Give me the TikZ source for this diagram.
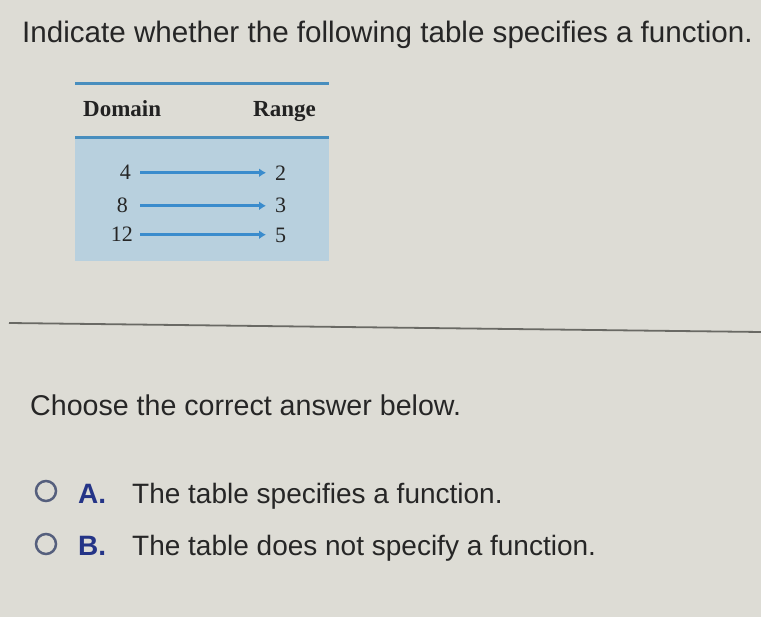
\documentclass[tikz,border=0pt]{standalone}
\usepackage{fontspec}
\setmainfont{Liberation Serif}
\newfontfamily\arialf{Liberation Sans}
\usetikzlibrary{arrows.meta}
\definecolor{bgc}{RGB}{221,220,213}
\definecolor{txt}{RGB}{38,38,38}
\definecolor{tblue}{RGB}{72,142,190}
\definecolor{tfill}{RGB}{184,208,222}
\definecolor{arrc}{RGB}{58,140,205}
\definecolor{navy}{RGB}{36,52,135}
\definecolor{ringc}{RGB}{85,95,125}
\definecolor{sepc}{RGB}{105,105,100}
\tikzset{
  sanstxt/.style={inner sep=0pt, anchor=base west, text=txt, font=\arialf\fontsize{28}{30}\selectfont},
  head/.style={inner sep=0pt, anchor=base west, text=txt!90!black, font=\bfseries\fontsize{23}{25}\selectfont},
  dom/.style={inner sep=0pt, anchor=base east, text=txt, font=\fontsize{22}{24}\selectfont},
  rng/.style={inner sep=0pt, anchor=base west, text=txt, font=\fontsize{22}{24}\selectfont},
  maparrow/.style={draw=arrc, line width=3pt, shorten <=9pt, shorten >=9pt, -{Latex[length=7pt,width=9pt]}},
  letter/.style={inner sep=0pt, anchor=base west, text=navy, font=\arialf\bfseries\fontsize{28}{30}\selectfont},
  radio/.style={circle, draw=ringc, line width=2.5pt, minimum size=20pt, inner sep=0pt},
}
\begin{document}
\begin{tikzpicture}[x=1pt,y=-1pt]
\fill[bgc] (0,0) rectangle (761,617);
\useasboundingbox (0,0) rectangle (761,617);
% table
\fill[tfill] (75,138) rectangle (329,261);
\draw[tblue, line width=3pt] (75,84) -- (329,84);
\draw[tblue, line width=3pt] (75,138) -- (329,138);
% separator
\draw[sepc, line width=1.8pt] (9,323) -- (761,332);
% title
\node[sanstxt, font=\arialf\fontsize{29.6}{31}\selectfont] (title) at (22,43) {Indicate whether the following table specifies a function.};
% headers
\node[head] (hdom) at (83,117) {Domain};
\node[head] (hrng) at (253,117) {Range};
% domain/range values
\node[dom] (d4) at (131,180) {4};
\node[dom] (d8) at (128,213) {8};
\node[dom] (d12) at (133,242) {12};
\node[rng] (r2) at (275,181) {2};
\node[rng] (r3) at (275,213) {3};
\node[rng] (r5) at (275,243) {5};
\draw[maparrow] (d4.east) -- (d4.east -| r2.west);
\draw[maparrow] (d8.east -| d4.east) -- (d8.east -| r3.west);
\draw[maparrow] (d12.east -| d4.east) -- (d12.east -| r5.west);
% question
\node[sanstxt, font=\arialf\fontsize{28.6}{30}\selectfont] (choose) at (30,416) {Choose the correct answer below.};
% options
\node[radio] (ca) at (46,491) {};
\node[letter] (la) at (78,504) {A.};
\node[sanstxt] (ta) at (132,504) {The table specifies a function.};
\node[radio] (cb) at (46,544) {};
\node[letter] (lb) at (78,556) {B.};
\node[sanstxt] (tb) at (132,556) {The table does not specify a function.};
\end{tikzpicture}
\end{document}
